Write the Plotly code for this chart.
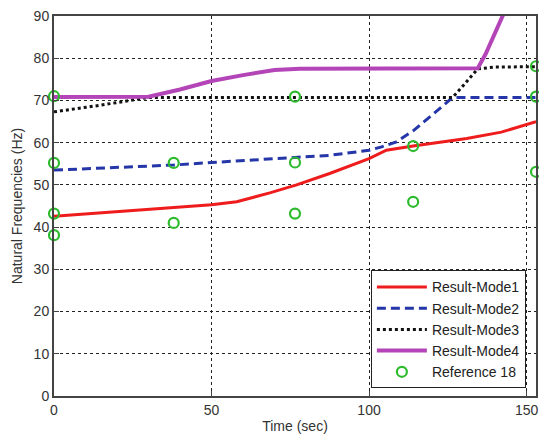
import plotly.graph_objects as go

# Result-Mode1 (red solid)
mode1_t = [0, 50, 58, 68.5, 77, 87.5, 100, 105.5, 114, 131, 142, 153]
mode1_f = [42.6, 45.3, 46.0, 48.1, 50.0, 52.7, 56.2, 58.2, 59.2, 61.0, 62.5, 65.0]

# Result-Mode2 (blue dashed)
mode2_t = [0, 38, 50, 77, 87.5, 100, 104, 108.7, 114, 119.3, 123, 126.5, 153]
mode2_f = [53.5, 54.7, 55.3, 56.5, 57.0, 58.2, 59.0, 60.2, 62.8, 66.1, 68.5, 70.7, 70.7]

# Result-Mode3 (black dotted)
mode3_t = [0, 15, 30, 126.5, 130, 134.5, 140, 153]
mode3_f = [67.3, 68.9, 70.7, 70.7, 73.6, 77.5, 77.9, 78.0]

# Result-Mode4 (magenta)
mode4_t = [0, 30, 40, 50, 60, 65, 70, 78, 134.5, 137, 140, 143]
mode4_f = [70.8, 70.9, 72.6, 74.6, 76.0, 76.7, 77.2, 77.5, 77.6, 81.0, 85.8, 91.0]

# Reference 18 (green circles)
ref_t = [0, 0, 0, 0, 38, 38, 76.5, 76.5, 76.5, 114, 114, 153, 153, 153]
ref_f = [71.0, 55.2, 43.2, 38.1, 55.2, 41.0, 70.9, 55.3, 43.2, 59.2, 46.0, 78.1, 70.9, 53.1]

x_ticks = [0, 50, 100, 150]
y_ticks = [0, 10, 20, 30, 40, 50, 60, 70, 80, 90]

FONT = "Arial, Liberation Sans, sans-serif"

fig = go.Figure()
fig.add_trace(go.Scatter(x=mode1_t, y=mode1_f, mode="lines", name="Result-Mode1",
                         line=dict(color="#ee1c1c", width=3)))
fig.add_trace(go.Scatter(x=mode2_t, y=mode2_f, mode="lines", name="Result-Mode2",
                         line=dict(color="#2436a8", width=3, dash="9px,5px")))
fig.add_trace(go.Scatter(x=mode3_t, y=mode3_f, mode="lines", name="Result-Mode3",
                         line=dict(color="#111111", width=3, dash="3px,3px")))
fig.add_trace(go.Scatter(x=mode4_t, y=mode4_f, mode="lines", name="Result-Mode4",
                         line=dict(color="#b445b8", width=4)))
fig.add_trace(go.Scatter(x=ref_t, y=ref_f, mode="markers", name="Reference 18",
                         cliponaxis=False,
                         marker=dict(symbol="circle-open", size=10, color="#2dbb2d",
                                     line=dict(width=2.2, color="#2dbb2d"))))

axis_common = dict(
    showline=True, linecolor="#444444", linewidth=2, mirror=True,
    ticks="inside", ticklen=5, tickcolor="#444444",
    showgrid=True, gridcolor="#222222", gridwidth=1, griddash="dot",
    zeroline=False, automargin=False, ticklabeloverflow="allow",
    tickfont=dict(family=FONT, size=14, color="#333333"),
)

fig.update_layout(
    width=539, height=434,
    margin=dict(l=54, r=3, t=16, b=38),
    paper_bgcolor="white", plot_bgcolor="white",
    font=dict(family=FONT, color="#333333"),
    showlegend=True,
    legend=dict(
        x=0.979, y=0.02, xanchor="right", yanchor="bottom",
        bgcolor="white", bordercolor="#222222", borderwidth=1,
        font=dict(family=FONT, size=14, color="#222222"),
        itemwidth=50, tracegroupgap=0,
    ),
)
fig.update_xaxes(range=[0, 153], tickvals=x_ticks,
                 title=dict(text="Time (sec)", font=dict(family=FONT, size=14, color="#333333")),
                 **axis_common)
fig.update_yaxes(range=[0, 90], tickvals=y_ticks,
                 title=dict(text="Natural Frequencies (Hz)", standoff=8,
                            font=dict(family=FONT, size=14, color="#333333")),
                 **axis_common)

fig.write_html("out.html",
               config={"displayModeBar": False},
               post_script="document.body.style.margin='0';document.body.style.overflow='hidden';")
